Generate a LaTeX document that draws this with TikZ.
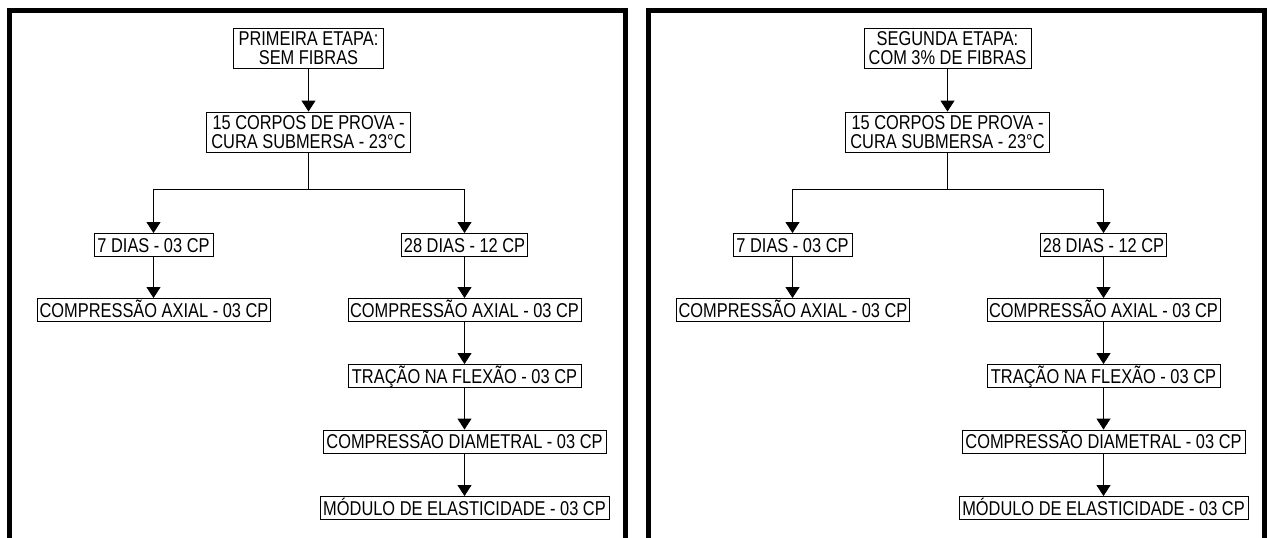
\documentclass[tikz,border=0pt]{standalone}
\usepackage{fontspec}
\setmainfont[FakeStretch=0.82]{Liberation Sans}
\usetikzlibrary{arrows.meta,calc}
\newcommand\etapapanel[4]{%
\begin{scope}[xshift=#3]
\draw[frame] (9.5,560) -- (9.5,10.5) -- (625.5,10.5) -- (625.5,560);
\node[two,minimum width=#4] (#1t) at (308.5,48) {#2};
\node[two,minimum width=204pt] (#1c) at (308.5,132) {15 CORPOS DE PROVA -\\CURA SUBMERSA - 23°C};
\coordinate (#1j) at (308.5,189);
\node[one,minimum width=119pt] (#1d7) at (153.5,245) {7 DIAS - 03 CP};
\node[one,minimum width=126pt] (#1d28) at (464.5,245) {28 DIAS - 12 CP};
\node[one,minimum width=232pt] (#1a1) at (154,310) {COMPRESSÃO AXIAL - 03 CP};
\node[one,minimum width=233pt] (#1a2) at (464.5,310) {COMPRESSÃO AXIAL - 03 CP};
\node[one,minimum width=233pt] (#1tr) at (464.5,376) {TRAÇÃO NA FLEXÃO - 03 CP};
\node[one,minimum width=283pt] (#1di) at (464.5,441.5) {COMPRESSÃO DIAMETRAL - 03 CP};
\node[one,minimum width=289pt] (#1mo) at (464.5,508) {MÓDULO DE ELASTICIDADE - 03 CP};
\draw[arr] (#1t.south) -- (#1c.north);
\draw[ln] (#1c.south) -- (#1j);
\draw[arr] (#1j) -| (#1d7.north);
\draw[arr] (#1j) -| (#1d28.north);
\draw[arr] (#1d7.south) -- (#1d7.south |- #1a1.north);
\draw[arr] (#1d28.south) -- (#1d28.south |- #1a2.north);
\draw[arr] (#1a2.south) -- (#1a2.south |- #1tr.north);
\draw[arr] (#1tr.south) -- (#1tr.south |- #1di.north);
\draw[arr] (#1di.south) -- (#1di.south |- #1mo.north);
\end{scope}}
\begin{document}
\begin{tikzpicture}[x=1pt,y=-1pt,
  box/.style={draw,line width=0.9pt,inner xsep=2pt,inner ysep=0pt,
    font=\fontsize{20}{18.5}\selectfont},
  one/.style={box,minimum height=23pt,text height=14.5pt,text depth=0pt},
  two/.style={box,minimum height=40pt,align=center},
  arr/.style={line width=1pt,-{Triangle[width=14pt,length=11pt]}},
  ln/.style={line width=1pt},
  frame/.style={line width=5pt}]
\useasboundingbox (0,0) rectangle (1267,538);
\clip (0,0) rectangle (1267,538);
\fill[white] (0,0) rectangle (1267,538);
\etapapanel{L}{PRIMEIRA ETAPA:\\SEM FIBRAS}{0pt}{150pt}
\etapapanel{R}{SEGUNDA ETAPA:\\COM 3\% DE FIBRAS}{639pt}{167pt}
\end{tikzpicture}
\end{document}
